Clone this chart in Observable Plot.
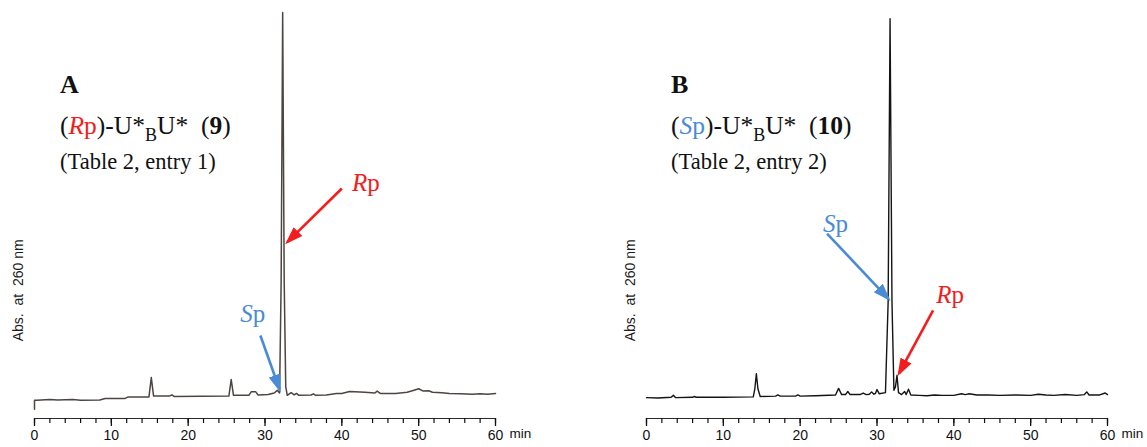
<!DOCTYPE html>
<html>
<head>
<meta charset="utf-8">
<script src="https://cdn.jsdelivr.net/npm/d3@7"></script>
<script src="https://cdn.jsdelivr.net/npm/@observablehq/plot@0.6"></script>
<style>
  body { margin: 0; background: #fff; }
  #wrap { position: relative; width: 1147px; height: 447px; overflow: hidden; background: #fff; }
  #wrap > svg { position: absolute; top: 0; }
</style>
</head>
<body>
<div id="wrap"></div>
<script>
// HPLC traces: retention time (min) and absorbance at 260 nm (% of full scale)
const timeA = [0, 0, 0.3, 2, 3, 5, 6, 8.5, 9.2, 11.8, 12.2, 14.9, 15.2, 15.5, 17.5, 17.9, 18.2, 25.3, 25.6, 25.9,
  27.9, 28.2, 28.8, 29.1, 30.4, 31.2, 31.6, 31.9, 32.1, 32.3, 32.5, 32.7, 32.9, 33.4, 33.8, 34.1, 34.4, 36, 36.3, 36.6,
  38, 39.3, 40, 41, 43, 44.3, 44.6, 45, 47, 48.5, 49.5, 50, 50.6, 51.3, 51.8, 53, 54, 55.5, 57, 58, 59, 60];
const absA = [-2.8, -0.5, -0.5, -0.3, -0.4, -0.3, -0.5, -0.4, 0, 0, 0.4, 0.4, 5.4, 0.6, 0.6, 0.9, 0.5, 0.6, 4.9, 0.8,
  0.8, 1.7, 1.7, 0.9, 1.0, 1.4, 2.1, 1.4, 30, 100, 30, 3, 0.8, 1.5, 0.9, 1.3, 0.8, 0.9, 1.2, 0.8,
  0.9, 1.3, 1.3, 1.8, 1.6, 1.4, 1.9, 1.3, 1.3, 1.6, 2.2, 2.5, 1.9, 2.0, 1.6, 1.5, 1.3, 1.2, 1.1, 1.2, 1.1, 1.3];

const timeB = [0, 1.5, 3.2, 3.5, 3.8, 6, 6.2, 6.5, 10, 13.9, 14.1, 14.3, 14.5, 14.8, 16.8, 17.1, 17.4, 19.4, 19.7, 20,
  22, 24.6, 25.0, 25.4, 25.9, 26.2, 26.5, 27.8, 28.2, 28.6, 29.0, 29.3, 29.6, 29.8, 30.0, 30.3, 31.1, 31.45, 31.7, 31.95,
  32.2, 32.4, 32.6, 32.8, 33.2, 33.6, 33.8, 34.1, 34.4, 35.5, 36.5, 37.5, 38.5, 40, 41, 41.5, 42, 43, 44.5, 46,
  48, 50, 51, 52, 53, 54.5, 56, 57, 57.3, 57.6, 59, 59.7, 60];
const absB = [0.2, 0.1, 0.3, 0.8, 0.2, 0.3, 0.5, 0.3, 0.3, 0.4, 2.5, 6.4, 2.5, 0.5, 0.6, 0.9, 0.6, 0.6, 0.9, 0.6,
  0.7, 0.9, 2.6, 1.0, 1.0, 1.8, 1.0, 1.0, 1.4, 1.0, 1.1, 1.7, 1.1, 1.3, 2.3, 1.2, 1.5, 25, 98.4, 25,
  2.1, 3, 6.0, 1.5, 1.0, 1.8, 1.0, 2.4, 0.9, 0.8, 0.7, 0.9, 0.8, 0.8, 1.2, 1.0, 1.2, 0.9, 0.9, 0.8,
  0.9, 0.8, 1.1, 0.9, 0.8, 1.0, 0.8, 1.0, 1.7, 0.9, 0.9, 1.4, 1.0];

// axis ticks (min)
const majorTicks = [0, 10, 20, 30, 40, 50, 60];
const minorTicks = [0, 2, 4, 6, 8, 10, 12, 14, 16, 18, 20, 22, 24, 26, 28, 30, 32, 34, 36, 38, 40, 42, 44, 46, 48, 50, 52, 54, 56, 58, 60];
const xUnit = "min";
const yLabel = "Abs.\u00a0 at\u00a0 260 nm";

// diastereomer call-outs: letter, arrow tail (x1, y1), arrow tip (x2, y2), label point (lx, ly)
const RED = "#f41c1c", BLUE = "#4a8bd6";
const calloutsA = [
  {letter: "R", color: RED, x1: 40.0, y1: 54.4, x2: 32.9, y2: 40.5, lx: 43.3, ly: 55.8},
  {letter: "S", color: BLUE, x1: 29.4, y1: 16.3, x2: 31.9, y2: 2.3, lx: 28.4, ly: 22.0}
];
const calloutsB = [
  {letter: "S", color: BLUE, x1: 23.5, y1: 42.7, x2: 31.5, y2: 25.8, lx: 24.6, ly: 45.3},
  {letter: "R", color: RED, x1: 37.3, y1: 22.8, x2: 32.85, y2: 6.4, lx: 39.7, ly: 26.9}
];

// panel headings
const headings = [
  {left: 60, panel: "A", letter: "R", compound: "9", entry: "(Table 2, entry 1)"},
  {left: 671, panel: "B", letter: "S", compound: "10", entry: "(Table 2, entry 2)"}
];

const SERIF = "Liberation Serif, Times New Roman, serif";
const SANS = "Liberation Sans, Arial, sans-serif";
const Y_MIN = -5.2;

// filled triangular arrowhead
function solidHead(color) {
  const ns = "http://www.w3.org/2000/svg";
  const m = document.createElementNS(ns, "marker");
  m.setAttribute("viewBox", "-15 -7 18 14");
  m.setAttribute("markerWidth", 18);
  m.setAttribute("markerHeight", 14);
  m.setAttribute("markerUnits", "userSpaceOnUse");
  m.setAttribute("orient", "auto");
  m.setAttribute("refX", 0);
  m.setAttribute("refY", 0);
  const p = document.createElementNS(ns, "path");
  p.setAttribute("d", "M-15,-6.2L3,0L-15,6.2Z");
  p.setAttribute("fill", color);
  p.setAttribute("stroke", "none");
  m.appendChild(p);
  return m;
}

function calloutMarks(callouts) {
  const marks = [];
  for (const c of callouts) {
    marks.push(Plot.link([c], {x1: "x1", y1: "y1", x2: "x2", y2: "y2", stroke: c.color, strokeWidth: 2.6, markerEnd: solidHead}));
    marks.push(Plot.text([c], {x: "lx", y: "ly", text: "letter", fill: c.color, textAnchor: "end", fontFamily: SERIF, fontSize: 25, fontStyle: "italic"}));
    marks.push(Plot.text([c], {x: "lx", y: "ly", text: () => "p", fill: c.color, textAnchor: "start", fontFamily: SERIF, fontSize: 25}));
  }
  return marks;
}

function panel({time, abs, stroke, strokeWidth, callouts, width, marginRight}) {
  const trace = time.map((t, i) => ({t, a: abs[i]}));
  return Plot.plot({
    width, height: 447,
    marginTop: 12, marginBottom: 29, marginLeft: 34, marginRight,
    style: {fontFamily: SANS, fontSize: "14px", color: "#111", background: "transparent", overflow: "visible"},
    x: {domain: [0, 60], axis: null},
    y: {domain: [Y_MIN, 100], axis: null},
    marks: [
      Plot.ruleY([Y_MIN], {stroke: "#2a2a2a", strokeWidth: 1.2}),
      Plot.axisX({ticks: minorTicks, tickSize: 5, tickFormat: () => "", strokeWidth: 1.2, label: null}),
      Plot.axisX({ticks: majorTicks, tickSize: 8, tickPadding: 4, strokeWidth: 1.3, fontSize: 14, label: null}),
      Plot.text([xUnit], {x: 60, frameAnchor: "bottom", textAnchor: "start", dx: 14, dy: 19.5, fontSize: 13.5, fill: "#111"}),
      Plot.text([yLabel], {y: 28, frameAnchor: "left", textAnchor: "middle", dx: -16, rotate: -90, fontSize: 14, fill: "#1c1c1c"}),
      Plot.line(trace, {x: "t", y: "a", stroke, strokeWidth, strokeLinejoin: "round"}),
      ...calloutMarks(callouts)
    ]
  });
}

const wrap = document.getElementById("wrap");

const svgA = panel({time: timeA, abs: absA, stroke: "#4d4541", strokeWidth: 1.5, callouts: calloutsA, width: 560, marginRight: 65});
svgA.style.left = "0px";
wrap.appendChild(svgA);

const svgB = panel({time: timeB, abs: absB, stroke: "#141414", strokeWidth: 1.4, callouts: calloutsB, width: 535, marginRight: 40});
svgB.style.left = "612px";
wrap.appendChild(svgB);

// headings drawn on top of both panels
const over = d3.select(wrap).append("svg")
  .attr("width", 1147).attr("height", 447)
  .style("left", "0px").style("pointer-events", "none")
  .attr("font-family", SERIF).attr("fill", "#111");

for (const h of headings) {
  over.append("text").attr("x", h.left).attr("y", 93).attr("font-size", 26).attr("font-weight", "bold").text(h.panel);

  const t = over.append("text").attr("x", h.left).attr("y", 133.5).attr("font-size", 25.5);
  t.append("tspan").text("(");
  t.append("tspan").attr("fill", h.letter === "R" ? RED : BLUE).attr("font-style", "italic").text(h.letter);
  t.append("tspan").attr("fill", h.letter === "R" ? RED : BLUE).text("p");
  t.append("tspan").text(")-U*");
  t.append("tspan").attr("dy", 7).attr("font-size", 18).text("B");
  t.append("tspan").attr("dy", -7).text("U*\u00a0\u00a0(");
  t.append("tspan").attr("font-weight", "bold").text(h.compound);
  t.append("tspan").text(")");

  over.append("text").attr("x", h.left).attr("y", 169).attr("font-size", 22.5).text(h.entry);
}
</script>
</body>
</html>
